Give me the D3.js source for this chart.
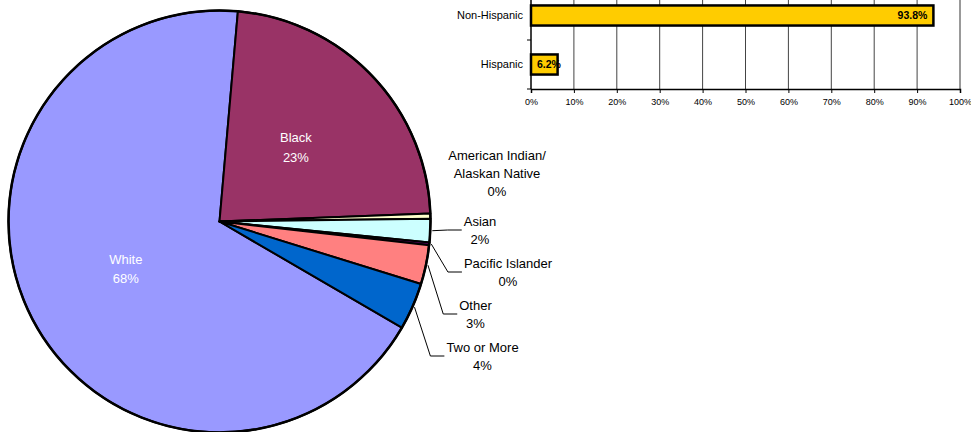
<!DOCTYPE html>
<html>
<head>
<meta charset="utf-8">
<script src="https://cdn.jsdelivr.net/npm/d3@7"></script>
<style>
  html, body { margin: 0; padding: 0; background: #fff; }
  svg { display: block; font-family: "Liberation Sans", Arial, sans-serif; }
</style>
</head>
<body>
<svg id="chart" width="971" height="432"></svg>
<script>
// Race breakdown (pie)
const raceNames = ["White", "Black", "American Indian/\nAlaskan Native", "Asian", "Pacific Islander", "Other", "Two or More"];
const raceShares = [68.0, 23.0, 0.4, 1.8, 0.2, 3.0, 3.6];
const raceLabels = ["68%", "23%", "0%", "2%", "0%", "3%", "4%"];
const raceColors = ["#9999FF", "#993366", "#FFFFCC", "#CCFFFF", "#660066", "#FF8080", "#0066CC"];

// Ethnicity breakdown (bars)
const ethnicNames = ["Non-Hispanic", "Hispanic"];
const ethnicShares = [0.938, 0.062];
const ethnicLabels = ["93.8%", "6.2%"];
const xTickValues = [0, 0.1, 0.2, 0.3, 0.4, 0.5, 0.6, 0.7, 0.8, 0.9, 1.0];

const svg = d3.select("#chart");

// ---------- Pie ----------
const cx = 219.5, cy = 221.5, R = 211;
const startDeg = 120.2;
const pie = d3.pie().sort(null).value(d => d)
  .startAngle(startDeg * Math.PI / 180)
  .endAngle((startDeg + 360) * Math.PI / 180);
const arcs = pie(raceShares);
const arc = d3.arc().innerRadius(0).outerRadius(R);

const gPie = svg.append("g").attr("transform", `translate(${cx},${cy})`);
gPie.selectAll("path.slice")
  .data(arcs)
  .join("path")
  .attr("class", "slice")
  .attr("d", arc)
  .attr("fill", (d, i) => raceColors[i])
  .attr("stroke", "#000")
  .attr("stroke-width", 2)
  .attr("stroke-linejoin", "round");
gPie.append("circle").attr("r", R).attr("fill", "none")
  .attr("stroke", "#000").attr("stroke-width", 2.5);

// Labels inside the two large slices
const innerIdx = [0, 1];
innerIdx.forEach(i => {
  const [x, y] = arc.centroid(arcs[i]);
  const t = gPie.append("text")
    .attr("x", x).attr("y", y)
    .attr("text-anchor", "middle")
    .attr("font-size", 13)
    .attr("fill", "#fff");
  t.append("tspan").attr("x", x).attr("dy", "-0.5em").text(raceNames[i]);
  t.append("tspan").attr("x", x).attr("dy", "1.5em").text(raceLabels[i]);
});

// Labels outside the small slices, with leader lines where needed
const outerSpots = [
  { idx: 2, x: 497, y: 173, leader: false },
  { idx: 3, x: 480, y: 230, leader: true },
  { idx: 4, x: 508, y: 272, leader: true },
  { idx: 5, x: 475.5, y: 314, leader: true },
  { idx: 6, x: 482.5, y: 356, leader: true }
];
const lineH = 18;
outerSpots.forEach(s => {
  const lines = raceNames[s.idx].split("\n").concat([raceLabels[s.idx]]);
  const lx = s.x - cx, ly = s.y - cy;
  const t = gPie.append("text")
    .attr("text-anchor", "middle")
    .attr("font-size", 13)
    .attr("fill", "#000");
  lines.forEach((ln, k) => {
    t.append("tspan")
      .attr("x", lx)
      .attr("y", ly + (k - (lines.length - 1) / 2) * lineH + 4.5)
      .text(ln);
  });
  if (s.leader) {
    const bb = t.node().getBBox();
    const a = (arcs[s.idx].startAngle + arcs[s.idx].endAngle) / 2;
    const sx = (R + 2) * Math.sin(a), sy = -(R + 2) * Math.cos(a);
    const ex = bb.x - 2;
    const bx = ex - 14;
    gPie.append("path")
      .attr("d", d3.line()([[sx, sy], [bx, ly], [ex, ly]]))
      .attr("fill", "none")
      .attr("stroke", "#000")
      .attr("stroke-width", 1);
  }
});

// ---------- Bars ----------
const x = d3.scaleLinear().domain([0, 1]).range([531, 960]);
const y = d3.scaleBand().domain(ethnicNames).range([-9, 89])
  .paddingInner(0.59).paddingOuter(0.295);

const gBar = svg.append("g");

// vertical gridlines
gBar.selectAll("line.grid")
  .data(xTickValues.slice(1, -1))
  .join("line")
  .attr("class", "grid")
  .attr("x1", d => x(d)).attr("x2", d => x(d))
  .attr("y1", -9).attr("y2", 89)
  .attr("stroke", "#444").attr("stroke-width", 1);
// plot area right border
gBar.append("line")
  .attr("x1", x(1)).attr("x2", x(1)).attr("y1", -9).attr("y2", 89)
  .attr("stroke", "#999").attr("stroke-width", 2);

// bars
gBar.selectAll("rect.bar")
  .data(ethnicShares)
  .join("rect")
  .attr("class", "bar")
  .attr("x", x(0))
  .attr("y", (d, i) => y(ethnicNames[i]))
  .attr("width", d => x(d) - x(0))
  .attr("height", y.bandwidth())
  .attr("fill", "#FFCC00")
  .attr("stroke", "#000")
  .attr("stroke-width", 2.5);

// bottom axis
const xAxis = d3.axisBottom(x).tickValues(xTickValues)
  .tickFormat(d3.format(".0%")).tickSize(4).tickPadding(6);
const gx = gBar.append("g").attr("transform", "translate(0,89)").call(xAxis);
gx.select(".domain").attr("stroke", "#000").attr("stroke-width", 1.5);
gx.selectAll(".tick line").attr("stroke", "#000");
gx.selectAll("text").attr("font-size", 9).attr("font-family", "Liberation Sans, Arial, sans-serif").attr("fill", "#000");

// left axis
const gy = gBar.append("g").attr("transform", `translate(${x(0)},0)`);
gy.append("line").attr("x1", 0).attr("x2", 0).attr("y1", -9).attr("y2", 89)
  .attr("stroke", "#000").attr("stroke-width", 1.5);
const bandEdges = [-9, -9 + y.step(), 89];
gy.selectAll("line.tk").data(bandEdges).join("line").attr("class", "tk")
  .attr("x1", -4).attr("x2", 0).attr("y1", d => d).attr("y2", d => d)
  .attr("stroke", "#000");
gy.selectAll("text.cat").data(ethnicNames).join("text").attr("class", "cat")
  .attr("x", -8)
  .attr("y", d => y(d) + y.bandwidth() / 2)
  .attr("dy", "0.35em")
  .attr("text-anchor", "end")
  .attr("font-size", 11)
  .attr("fill", "#000")
  .text(d => d);

// value labels at the inside end of each bar
gBar.selectAll("text.val")
  .data(ethnicShares)
  .join("text")
  .attr("class", "val")
  .attr("y", (d, i) => y(ethnicNames[i]) + y.bandwidth() / 2)
  .attr("dy", "0.36em")
  .attr("font-size", 10.5)
  .attr("font-weight", "bold")
  .attr("fill", "#000")
  .attr("text-anchor", "end")
  .text((d, i) => ethnicLabels[i])
  .each(function (d) {
    const w = this.getComputedTextLength();
    const endX = Math.max(x(d) - 6, x(0) + 6 + w);
    d3.select(this).attr("x", endX);
  });
</script>
</body>
</html>
